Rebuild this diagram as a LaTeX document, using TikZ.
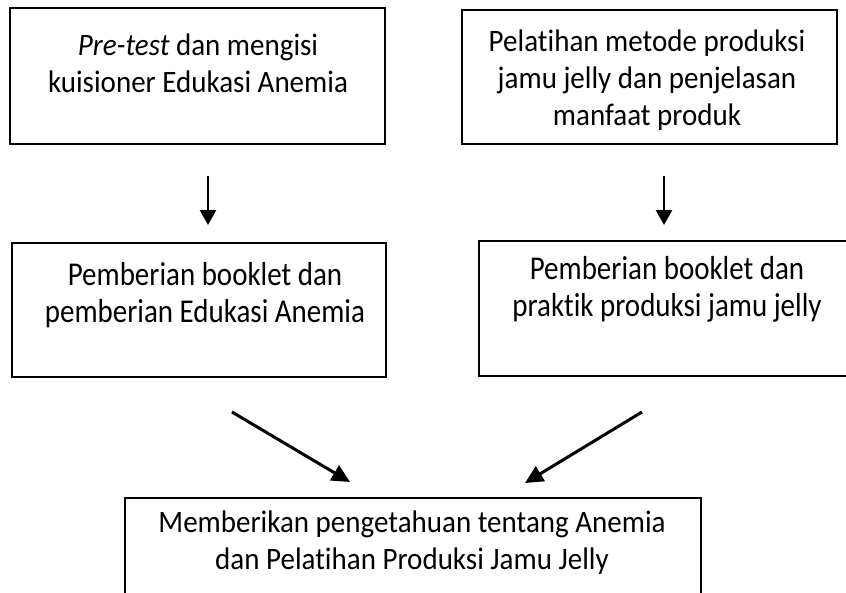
\documentclass[tikz,border=0pt]{standalone}
\usepackage{fontspec}
\setmainfont{Carlito}[Ligatures=CommonOff,FakeStretch=0.93]
\newfontfamily\condfont{Carlito}[Ligatures=CommonOff,FakeStretch=0.87]
\usetikzlibrary{arrows.meta}
\begin{document}
\begin{tikzpicture}[x=1pt,y=-1pt,
  box/.style={draw=black,line width=2pt,rectangle,inner sep=0pt,outer sep=0pt},
  txt/.style={align=center,inner sep=0pt,font=\fontsize{31.2pt}{37pt}\selectfont},
  ctxt/.style={align=center,inner sep=0pt,font=\condfont\fontsize{33.3pt}{37pt}\selectfont},
  arr/.style={line width=2.6pt,-{Triangle[width=16pt,length=15pt]}},
  darr/.style={line width=3pt,-{Triangle[width=17pt,length=18pt]}}]
\useasboundingbox (0,0) rectangle (846,592);
% boxes
\node[box,minimum width=375pt,minimum height=136pt] (b1) at (197.5,76) {};
\node[box,minimum width=375pt,minimum height=134pt] (b2) at (649.5,77) {};
\node[box,minimum width=374pt,minimum height=134pt] (b3) at (199,310) {};
\node[box,minimum width=371pt,minimum height=135pt] (b4) at (664.5,308.5) {};
\node[box,minimum width=576pt,minimum height=104pt] (b5) at (413,550) {};
% texts
\node[txt] (t1) at (198,63) {\textit{Pre-test} dan mengisi\\kuisioner Edukasi Anemia};
\node[txt] (t2) at (647,80) {Pelatihan metode produksi\\jamu jelly dan penjelasan\\manfaat produk};
\node[ctxt] (t3) at (205,295) {Pemberian booklet dan\\pemberian Edukasi Anemia};
\node[ctxt] (t4) at (667,289) {Pemberian booklet dan\\praktik produksi jamu jelly};
\node[txt] (t5) at (412,543) {Memberikan pengetahuan tentang Anemia\\dan Pelatihan Produksi Jamu Jelly};
% arrows
\coordinate (a1s) at (208,176); \coordinate (a1e) at (208,225);
\coordinate (a2s) at (664,176); \coordinate (a2e) at (664,225);
\coordinate (d1s) at (232,412); \coordinate (d1e) at (350,482);
\coordinate (d2s) at (642,412); \coordinate (d2e) at (525,483);
\draw[arr] (a1s) -- (a1e);
\draw[arr] (a2s) -- (a2e);
\draw[darr] (d1s) -- (d1e);
\draw[darr] (d2s) -- (d2e);
\end{tikzpicture}
\end{document}
